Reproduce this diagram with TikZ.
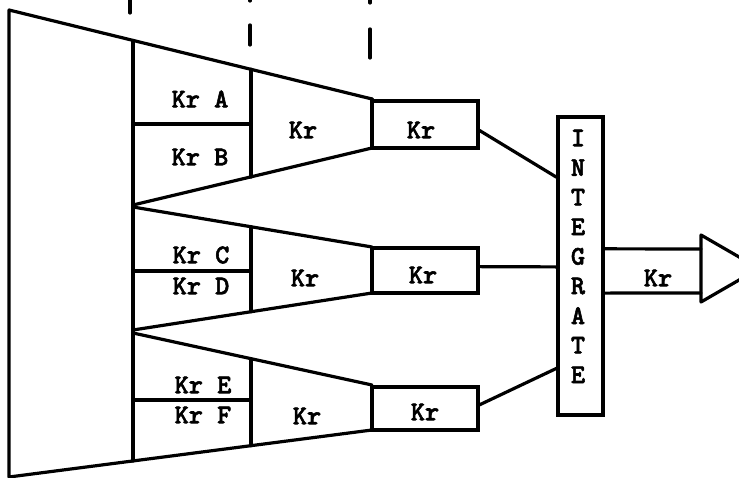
\documentclass[tikz,border=0pt]{standalone}
\usepackage{fontspec}
\newfontfamily\typew{lmmonolt10-bold.otf}[FakeBold=2]
\usetikzlibrary{calc}
\begin{document}
\begin{tikzpicture}[x=1pt,y=-1pt,
  ln/.style={line width=3.2pt, line join=round, line cap=round},
  lbl/.style={font=\fontsize{27}{28}\selectfont\typew, inner sep=0pt},
  boxn/.style={draw, line width=3.2pt, inner sep=0pt}]
\useasboundingbox (0,0) rectangle (739,478);
\clip (0,0) rectangle (739,478);
% dashed guide lines at top
\draw[ln] (130,0) -- (130,13);
\draw[ln] (250,0) -- (250,1);
\draw[ln] (250,25) -- (250,45);
\draw[ln] (370,0) -- (370,3);
\draw[ln] (370,29) -- (370,58);
% outer funnel
\draw[ln] (372,99) -- (9,10) -- (9,477) -- (372,430);
\draw[ln] (133,40.4) -- (133,461);
% channel 1
\draw[ln] (133,205) -- (372,148);
\draw[ln] (251,69.3) -- (251,177);
\draw[ln] (133,124) -- (251,124);
\draw[ln] (372,99) -- (372,148);
% channel 2
\draw[ln] (372,247) -- (133,207);
\draw[ln] (133,330) -- (372,293);
\draw[ln] (251,226.7) -- (251,311.7);
\draw[ln] (133,271) -- (251,271);
% channel 3
\draw[ln] (133,333) -- (372,385);
\draw[ln] (251,358.7) -- (251,445.7);
\draw[ln] (133,400) -- (251,400);
% boxes
\node[boxn, minimum width=106pt, minimum height=47pt] (b1) at (425,124.5) {};
\node[boxn, minimum width=106pt, minimum height=45pt] (b2) at (425,270.5) {};
\node[boxn, minimum width=106pt, minimum height=43pt] (b3) at (425,408.5) {};
\node[boxn, minimum width=45pt, minimum height=298pt] (integ) at (580.5,266) {};
% labels
\node[lbl] (ka) at (200,99) {Kr A};
\node[lbl] (kb) at (200,157) {Kr B};
\node[lbl] (k1) at (303,130) {Kr};
\node[lbl] (kc) at (201,255) {Kr C};
\node[lbl] (kd) at (201,286) {Kr D};
\node[lbl] (k2) at (305,278) {Kr};
\node[lbl] (ke) at (203,385) {Kr E};
\node[lbl] (kf) at (203,415) {Kr F};
\node[lbl] (k3) at (307,416) {Kr};
\node[lbl] (bk1) at (421,130) {Kr};
\node[lbl] (bk2) at (423,275) {Kr};
\node[lbl] (bk3) at (425,412) {Kr};
\node[lbl] (kout) at (658,278) {Kr};
\foreach \ch [count=\i] in {I,N,T,E,G,R,A,T,E}
  \node[lbl] (int\i) at (578,{138+29.6*(\i-1)}) {\ch};
% connectors to integrate
\draw[ln] ($(b1.north east)!0.62!(b1.south east)$) -- ($(integ.north west)!0.205!(integ.south west)$);
\draw[ln] ($(b2.north east)!0.42!(b2.south east)$) -- ($(integ.north west)!0.503!(integ.south west)$);
\draw[ln] ($(b3.north east)!0.42!(b3.south east)$) -- ($(integ.north west)!0.84!(integ.south west)$);
% output arrow
\coordinate (o1) at (701,249);
\coordinate (o2) at (701,293);
\draw[ln] ($(integ.north east)!0.443!(integ.south east)$) -- (o1);
\draw[ln] ($(integ.north east)!0.59!(integ.south east)$) -- (o2);
\draw[ln] (701,235) -- (759,268.5) -- (701,302) -- cycle;
\end{tikzpicture}
\end{document}
